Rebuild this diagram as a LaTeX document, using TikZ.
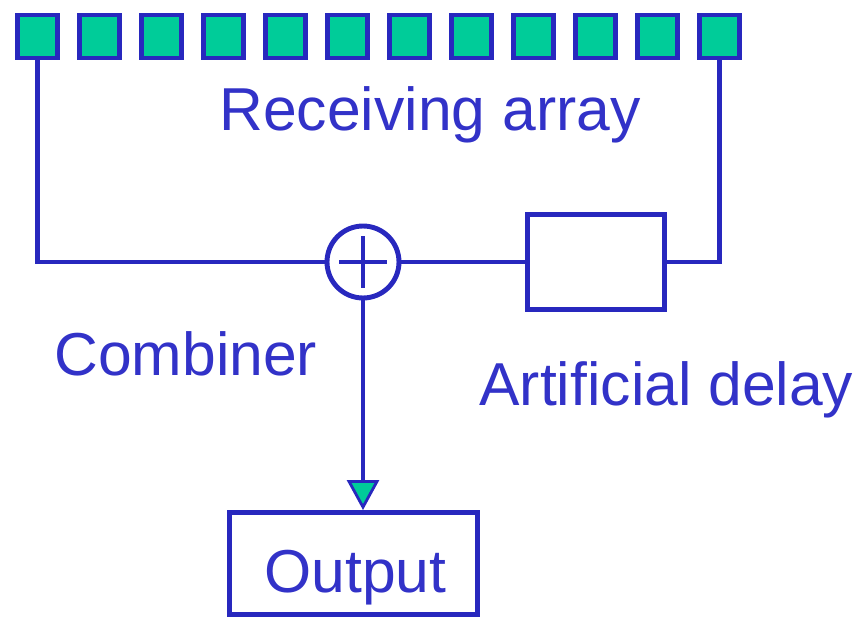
\documentclass[tikz,border=0pt]{standalone}
\usepackage{fontspec}
\setmainfont{Liberation Sans}
\usetikzlibrary{arrows.meta}
\definecolor{lineblue}{RGB}{40,40,190}
\definecolor{textblue}{RGB}{50,50,200}
\definecolor{elemgreen}{RGB}{0,204,153}
\tikzset{
    elem/.style={draw=lineblue,fill=elemgreen,line width=2.4pt,minimum width=0.8cm,minimum height=0.86cm,inner sep=0pt},
    blockbox/.style={draw=lineblue,line width=2.8pt,inner sep=0pt},
    lbl/.style={text=textblue,font=\fontsize{34.5}{40}\selectfont,inner sep=0pt,anchor=base west}
}
\begin{document}
\begin{tikzpicture}[x=0.02cm,y=-0.02cm,line width=2.8pt,draw=lineblue]
\useasboundingbox (0,0) rectangle (859,622);
% receiving elements
\foreach \i in {0,...,11}
    \node[elem](e\i) at (37.5+62*\i,36.5){};
\node[lbl](rx) at (217,130){Receiving array};
% combiner and delay line
\node[blockbox,circle,minimum size=1.44cm](comb) at (363,262){};
\draw (comb.center)++(-24,0)--++(48,0);
\draw (comb.center)++(0,-26)--++(0,52);
\node[blockbox,minimum width=2.74cm,minimum height=1.9cm](delay) at (596,262){};
\draw (e0.south) |- (comb.west);
\draw (e11.south) |- (delay.east);
\draw (comb.east) -- (delay.west);
\node[lbl](comblbl) at (52,375){Combiner};
\node[lbl](delaylbl) at (477,405){Artificial delay};
% output
\node[blockbox,minimum width=4.96cm,minimum height=2.04cm](out) at (353.5,563.5){};
\node[lbl](outlbl) at (262,592){Output};
\draw[-{Triangle[length=0.6cm,width=0.64cm,fill=elemgreen,line width=1.6pt]}] (comb.south) -- (comb.south |- out.north);
\end{tikzpicture}
\end{document}
